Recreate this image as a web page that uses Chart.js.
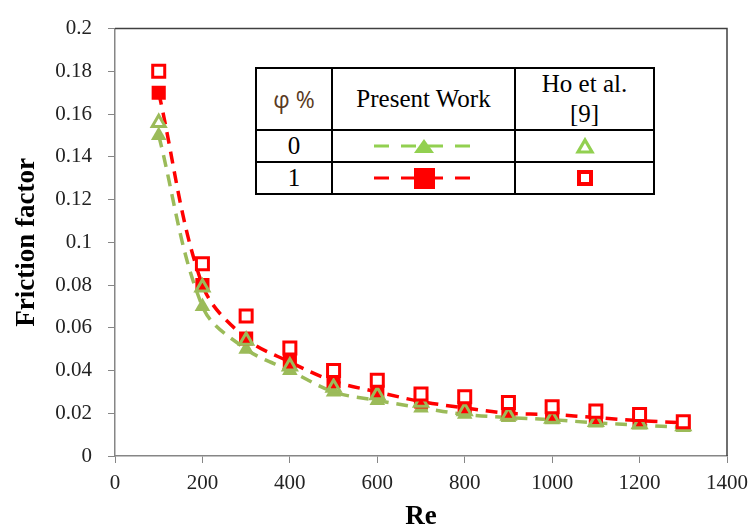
<!DOCTYPE html>
<html>
<head>
<meta charset="utf-8">
<script src="https://cdn.jsdelivr.net/npm/chart.js@4"></script>
<style>
  body { margin: 0; background: #fff; }
  #wrap { position: relative; width: 756px; height: 531px; }
  #legendTable {
    position: absolute; left: 255px; top: 67px;
    border-collapse: collapse; background: #fff;
    font-family: "Liberation Serif", "Times New Roman", serif; color: #000;
  }
  #legendTable td { border: 2px solid #000; padding: 0; text-align: center; vertical-align: middle; }
  #legendTable svg { display: block; margin: 0 auto; }
</style>
</head>
<body>
<div id="wrap">
  <canvas id="chart" width="756" height="531"></canvas>
  <table id="legendTable">
    <tr style="height:62px">
      <td style="width:74px; font-family:'Open Sans','DejaVu Sans',sans-serif; font-size:23px; color:#5a3a22">φ %</td>
      <td style="width:181px; font-size:25px">Present Work</td>
      <td style="width:137px; font-size:25px; line-height:30px">Ho et al.<br>[9]</td>
    </tr>
    <tr style="height:32px">
      <td style="font-size:25px">0</td>
      <td>
        <svg width="104" height="24">
          <line x1="2" y1="12" x2="102" y2="12" stroke="#92D050" stroke-width="3" stroke-dasharray="15 12"/>
          <polygon points="42,19 62,19 52,5" fill="#92D050"/>
        </svg>
      </td>
      <td>
        <svg width="20" height="18"><polygon points="3,15 17,15 10,3" fill="none" stroke="#92D050" stroke-width="3.2"/></svg>
      </td>
    </tr>
    <tr style="height:32px">
      <td style="font-size:25px">1</td>
      <td>
        <svg width="104" height="24">
          <line x1="2" y1="12" x2="102" y2="12" stroke="#FF0000" stroke-width="3" stroke-dasharray="15 12"/>
          <rect x="42" y="2" width="21" height="21" fill="#FF0000"/>
        </svg>
      </td>
      <td>
        <svg width="20" height="20"><rect x="4" y="4" width="12" height="12" fill="none" stroke="#FF0000" stroke-width="4"/></svg>
      </td>
    </tr>
  </table>
</div>
<script>
// Reynolds numbers
const reValues = [100, 200, 300, 400, 500, 600, 700, 800, 900, 1000, 1100, 1200, 1300];

// Present work, phi = 0 % and 1 %
const presentPhi0 = [0.15, 0.07, 0.05, 0.04, 0.03, 0.026, 0.0225, 0.0195, 0.018, 0.017, 0.0155, 0.0145, 0.0133];
const presentPhi1 = [0.17, 0.08, 0.055, 0.044, 0.035, 0.030, 0.0255, 0.0225, 0.020, 0.0194, 0.018, 0.0165, 0.0156];

// Ho et al. [9], phi = 0 % and 1 %
const hoPhi0 = [0.156, 0.079, 0.054, 0.042, 0.032, 0.0285, 0.025, 0.021, 0.019, 0.0175, 0.016, 0.015, 0.014];
const hoPhi1 = [0.18, 0.09, 0.0655, 0.0505, 0.040, 0.0355, 0.029, 0.0277, 0.025, 0.023, 0.021, 0.0194, 0.016];

const xTickLabels = ["0", "200", "400", "600", "800", "1000", "1200", "1400"];
const yTickLabels = ["0", "0.02", "0.04", "0.06", "0.08", "0.1", "0.12", "0.14", "0.16", "0.18", "0.2"];

const toPoints = arr => arr.map((v, i) => ({ x: reValues[i], y: v }));

const GREEN = "#9BBB59";
const RED = "#FF0000";

// dark frame on the top and right of the plot area
const frame = {
  id: "frame",
  beforeDatasetsDraw(chart) {
    const { ctx, chartArea: a } = chart;
    ctx.save();
    ctx.lineWidth = 1.5;
    ctx.strokeStyle = "#404040";
    ctx.beginPath();
    ctx.moveTo(a.left, a.top);
    ctx.lineTo(a.right, a.top);
    ctx.lineTo(a.right, a.bottom);
    ctx.stroke();
    ctx.restore();
  }
};

new Chart(document.getElementById("chart"), {
  type: "line",
  data: {
    datasets: [
      {
        label: "Present Work 0",
        data: toPoints(presentPhi0),
        borderColor: GREEN,
        backgroundColor: GREEN,
        borderWidth: 3.5,
        borderDash: [12, 8],
        tension: 0.35,
        pointStyle: "triangle",
        pointRadius: 9,
        pointBorderWidth: 0,
        order: 4
      },
      {
        label: "Present Work 1",
        data: toPoints(presentPhi1),
        borderColor: RED,
        backgroundColor: RED,
        borderWidth: 3.5,
        borderDash: [12, 8],
        tension: 0.35,
        pointStyle: "rect",
        pointRadius: 10,
        pointBorderWidth: 0,
        order: 3
      },
      {
        label: "Ho 0",
        data: toPoints(hoPhi0),
        showLine: false,
        borderColor: GREEN,
        backgroundColor: "rgba(0,0,0,0)",
        pointStyle: "triangle",
        pointRadius: 7.5,
        pointBorderWidth: 3,
        order: 2
      },
      {
        label: "Ho 1",
        data: toPoints(hoPhi1),
        showLine: false,
        borderColor: RED,
        backgroundColor: "#fff",
        pointStyle: "rect",
        pointRadius: 8.5,
        pointBorderWidth: 3,
        order: 1
      }
    ]
  },
  options: {
    responsive: false,
    animation: false,
    layout: { padding: { left: 0, top: 16, right: 24, bottom: 0 } },
    plugins: {
      legend: { display: false },
      tooltip: { enabled: false }
    },
    scales: {
      x: {
        type: "linear",
        min: 0,
        max: 1400,
        afterFit: s => { s.height = 75; },
        ticks: {
          stepSize: 200,
          color: "#222",
          padding: 8,
          font: { family: "'Liberation Serif', serif", size: 21 },
          callback: (v, i) => xTickLabels[i]
        },
        grid: { drawOnChartArea: false, tickLength: 7, color: "#868686" },
        border: { color: "#868686", width: 1.5 },
        title: {
          display: true,
          text: "Re",
          color: "#000",
          font: { family: "'Liberation Serif', serif", size: 27, weight: "bold", lineHeight: 1 },
          padding: 0
        }
      },
      y: {
        min: 0,
        max: 0.2,
        afterFit: s => { s.width = 115; },
        ticks: {
          stepSize: 0.02,
          color: "#222",
          padding: 16,
          font: { family: "'Liberation Serif', serif", size: 21 },
          callback: (v, i) => yTickLabels[i]
        },
        grid: { drawOnChartArea: false, tickLength: 7, color: "#868686" },
        border: { color: "#868686", width: 1.5 },
        title: {
          display: true,
          text: "Friction factor",
          color: "#000",
          font: { family: "'Liberation Serif', serif", size: 27, weight: "bold", lineHeight: 1 },
          padding: { top: 14, bottom: 0 }
        }
      }
    }
  },
  plugins: [frame]
});
</script>
</body>
</html>
